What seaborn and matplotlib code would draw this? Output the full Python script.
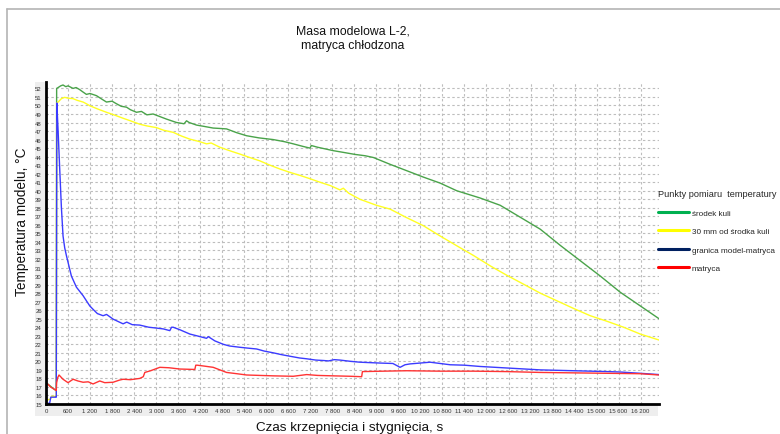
import matplotlib
matplotlib.use("Agg")
import matplotlib.pyplot as plt
import seaborn as sns
import pandas as pd
from matplotlib.lines import Line2D
from matplotlib.patches import Rectangle
from matplotlib.ticker import MultipleLocator, FuncFormatter

# ---------------- data ----------------
title_text = "Masa modelowa L-2,\nmatryca chłodzona"
x_label = "Czas krzepnięcia i stygnięcia, s"
y_label = "Temperatura modelu, °C"
legend_title = "Punkty pomiaru  temperatury"
series_names = ["środek kuli", "30 mm od środka kuli", "granica model-matryca", "matryca"]

t_green = [0, 60, 120, 200, 270, 280, 290, 330, 400, 464, 540, 600, 737, 820, 920, 1000,
           1100, 1200, 1374, 1500, 1647, 1800, 1920, 2050, 2193, 2300, 2465, 2600, 2750,
           2918, 3100, 3283, 3420, 3556, 3700, 3760, 3829, 3900, 4101, 4300, 4555, 4750,
           4919, 5200, 5465, 5800, 6191, 6500, 6736, 7000, 7191, 7230, 7400, 7827, 8100,
           8418, 8700, 8918, 9373, 9828, 10281, 10736, 11191, 11827, 12372, 12918, 13463,
           14009, 14554, 15100, 15645, 16190, 16700]
v_green = [17.5, 17.3, 17.1, 16.8, 16.6, 16.6, 52.0, 52.1, 52.3, 52.4, 52.2, 52.3, 52.0, 52.1,
           51.85, 51.6, 51.3, 51.4, 51.15, 50.8, 50.4, 50.5, 50.2, 49.9, 49.8, 49.5, 49.2,
           49.3, 48.9, 49.0, 48.7, 48.4, 48.2, 48.0, 47.9, 47.85, 48.2, 48.0, 47.7, 47.55,
           47.35, 47.3, 47.25, 46.8, 46.45, 46.2, 46.0, 45.75, 45.5, 45.2, 45.0, 45.3, 45.1,
           44.7, 44.5, 44.26, 44.1, 43.9, 43.1, 42.35, 41.6, 40.9, 40.0, 39.15, 38.3, 36.9,
           35.5, 33.6, 31.8, 30.0, 28.1, 26.5, 25.0]

t_yellow = [0, 60, 130, 150, 270, 280, 290, 330, 420, 510, 600, 737, 850, 1010, 1100, 1192,
            1400, 1647, 1850, 2100, 2300, 2555, 2750, 3010, 3200, 3464, 3700, 3919, 4150,
            4374, 4500, 4737, 5000, 5282, 5550, 5828, 6100, 6373, 6650, 6918, 7200, 7464,
            7750, 8009, 8100, 8250, 8554, 9000, 9373, 9800, 10281, 10736, 11191, 11650,
            12100, 12550, 13008, 13463, 13918, 14373, 14827, 15282, 15736, 16190, 16700]
v_yellow = [15.3, 15.5, 15.6, 15.9, 15.9, 15.9, 50.3, 50.4, 50.8, 50.95, 50.85, 50.8, 50.6,
            50.4, 50.2, 49.97, 49.6, 49.2, 48.9, 48.5, 48.2, 47.8, 47.6, 47.4, 47.1, 46.85,
            46.4, 46.05, 45.8, 45.5, 45.6, 45.1, 44.7, 44.3, 43.9, 43.5, 43.0, 42.55, 42.15,
            41.8, 41.4, 41.0, 40.6, 40.1, 40.3, 39.7, 39.0, 38.3, 37.85, 36.9, 35.9, 34.7,
            33.55, 32.4, 31.2, 30.1, 29.05, 28.0, 27.1, 26.2, 25.35, 24.7, 24.0, 23.2, 22.5]

t_blue = [0, 100, 130, 270, 280, 295, 330, 374, 420, 464, 510, 556, 646, 692, 828, 1010,
          1192, 1282, 1400, 1555, 1650, 1828, 2000, 2100, 2200, 2350, 2555, 2800, 3010,
          3200, 3373, 3420, 3464, 3650, 3919, 4150, 4374, 4420, 4600, 4828, 5000, 5282,
          5500, 5737, 5950, 6191, 6400, 6646, 6900, 7101, 7350, 7555, 7700, 7850, 8009,
          8300, 8554, 9100, 9450, 9646, 9780, 9918, 10464, 11010, 11400, 11827, 12645,
          13463, 14372, 15282, 15645, 16190, 16700]
v_blue = [15.05, 15.1, 15.8, 15.8, 15.8, 50.3, 47.0, 42.5, 38.0, 34.7, 33.3, 32.4, 30.8,
          30.0, 28.7, 27.7, 26.5, 26.1, 25.6, 25.35, 25.5, 24.95, 24.6, 24.4, 24.6, 24.3,
          24.25, 24.0, 23.9, 23.8, 23.6, 24.0, 24.0, 23.7, 23.2, 22.95, 22.7, 22.9, 22.4,
          22.0, 21.8, 21.65, 21.55, 21.45, 21.2, 21.0, 20.8, 20.6, 20.4, 20.3, 20.15, 20.1,
          20.05, 20.2, 20.15, 20.0, 19.9, 19.8, 19.75, 19.3, 19.6, 19.7, 19.9, 19.6, 19.55,
          19.4, 19.2, 19.0, 18.9, 18.8, 18.75, 18.6, 18.45]

t_red = [0, 60, 120, 200, 270, 280, 290, 320, 355, 464, 600, 737, 870, 1010, 1150, 1282,
         1464, 1600, 1828, 2000, 2100, 2300, 2555, 2650, 2692, 2850, 3101, 3350, 3646,
         4055, 4080, 4119, 4300, 4555, 4919, 5200, 5465, 6191, 6736, 7101, 7400, 7827,
         8300, 8600, 8620, 9200, 9828, 10736, 11645, 12555, 13463, 14372, 15282, 16190, 16700]
v_red = [17.4, 17.3, 17.0, 16.8, 16.6, 16.6, 17.5, 18.1, 18.4, 17.9, 17.5, 17.9, 17.7, 17.55,
         17.6, 17.35, 17.7, 17.5, 17.55, 17.8, 17.9, 17.85, 18.0, 18.2, 18.7, 18.9, 19.3,
         19.25, 19.1, 19.05, 19.55, 19.55, 19.45, 19.3, 18.7, 18.55, 18.4, 18.3, 18.25,
         18.45, 18.35, 18.3, 18.25, 18.2, 18.8, 18.85, 18.9, 18.85, 18.85, 18.8, 18.7,
         18.65, 18.6, 18.55, 18.4]

x_tick_step = 600
# ----------------------------------------------------------------

sns.set_style("white")
plt.rcParams['font.family'] = ['Liberation Sans', 'DejaVu Sans']

W, H = 780, 435
fig = plt.figure(figsize=(W / 100, H / 100), dpi=100)
fig.patch.set_facecolor("white")


def fx(px):
    return px / W


def fy(py):
    return 1 - py / H


# outer chart frame
fig.add_artist(Line2D([fx(7), 1], [fy(10), fy(10)], color="#b4b4b4", lw=1.2, zorder=-2))
fig.add_artist(Line2D([fx(7), fx(7)], [fy(10), 0], color="#b4b4b4", lw=1.2, zorder=-2))
# light grey panel behind axis labels
fig.add_artist(Rectangle((fx(35), fy(417)), fx(658) - fx(35), fy(83) - fy(417),
                         facecolor="#eeeeee", edgecolor="none", zorder=-1))

ax = fig.add_axes([fx(46), fy(405), fx(659) - fx(46), fy(83) - fy(405)])
ax.set_facecolor("white")

line_colors = ["#4aa34a", "#ffff22", "#3b3bff", "#ff3333"]
data = [(t_green, v_green), (t_yellow, v_yellow), (t_blue, v_blue), (t_red, v_red)]
for (t, v), c in zip(data, line_colors):
    sns.lineplot(x=t, y=v, color=c, lw=1.0, ax=ax, estimator=None, sort=False, legend=False)

ax.set_xlim(0, 16700)
ax.set_ylim(15, 52.75)
ax.xaxis.set_major_locator(MultipleLocator(x_tick_step))
ax.yaxis.set_major_locator(MultipleLocator(1))
ax.xaxis.set_major_formatter(FuncFormatter(lambda v, p: f"{int(round(v)):,}".replace(",", " ")))
ax.yaxis.set_major_formatter(FuncFormatter(lambda v, p: f"{int(round(v))}"))
ax.grid(True, color="#bdbdbd", lw=0.8, linestyle=(0, (2.2, 2.2)))
ax.set_axisbelow(True)
for s in ["top", "right"]:
    ax.spines[s].set_visible(False)
for s in ["left", "bottom"]:
    ax.spines[s].set_color("black")
    ax.spines[s].set_linewidth(2)
ax.tick_params(axis="both", labelsize=4.3, length=1.5, width=0.8, pad=1.5, colors="#333333")

ax.set_xlabel(x_label, fontsize=9.7, color="#111111")
ax.set_ylabel(y_label, fontsize=9.8, color="#111111")
ax.xaxis.set_label_coords((350 - 46) / 613, (405 - 428) / 322)
ax.xaxis.label.set_va("center")
ax.yaxis.set_label_coords((22 - 46) / 613, (405 - 222) / 322)
ax.yaxis.label.set_va("center")

fig.text(fx(353), fy(38.7), title_text, ha="center", va="center", fontsize=8.8,
         linespacing=1.35, color="#111111")

legend_colors = ["#00b050", "#ffff00", "#002060", "#ff0000"]
handles = [Line2D([0], [0], color=c, lw=2.2) for c in legend_colors]
leg = fig.legend(handles, series_names, title=legend_title, loc="upper left",
                 bbox_to_anchor=(fx(658), fy(190.5)), frameon=False, fontsize=5.9,
                 title_fontsize=6.6, handlelength=3.8, handletextpad=0.35,
                 labelspacing=1.3, borderpad=0, borderaxespad=0, alignment="left")

fig.savefig("out.png", dpi=100)
